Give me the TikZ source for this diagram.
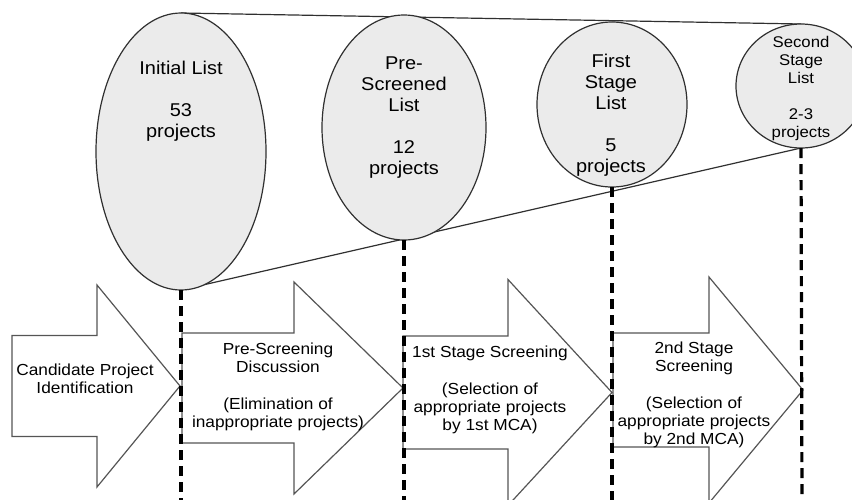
\documentclass[tikz,border=0pt]{standalone}
\usepackage{fontspec}
\setmainfont[FakeStretch=1.08]{Liberation Sans}
\usetikzlibrary{shapes.geometric,backgrounds}
\definecolor{listfill}{HTML}{EBEBEB}
\definecolor{listline}{HTML}{303030}
\definecolor{arrowline}{HTML}{555555}
\tikzset{
  listell/.style={ellipse, draw=listline, fill=listfill, line width=1.2pt, inner sep=0pt, outer sep=0pt},
  listtext/.style={align=center, inner sep=0pt, font=\fontsize{18.5}{21}\selectfont},
  smalltext/.style={align=center, inner sep=0pt, font=\fontsize{15.5}{18}\selectfont},
  steptext/.style={align=center, inner sep=0pt, font=\fontsize{16}{18.2}\selectfont},
  stagearrow/.style={draw=arrowline, fill=white, line width=1.2pt, line join=miter},
  funnel/.style={draw=listline, line width=1.2pt},
  guide/.style={draw=black, line width=3.2pt, dash pattern=on 10pt off 6pt}
}
% body left x, head base x, tip x, centre y, body half height, head half height
\newcommand\stagearr[6]{%
  \draw[stagearrow] (#1,#4-#5) -- (#2,#4-#5) -- (#2,#4-#6) -- (#3,#4)
    -- (#2,#4+#6) -- (#2,#4+#5) -- (#1,#4+#5) -- cycle;}
\begin{document}
\begin{tikzpicture}[x=1pt, y=-1pt]
\useasboundingbox (0,0) rectangle (852,499);
\clip (0,0) rectangle (852,499);

% process arrows
\stagearr{12}{97}{180}{386}{50.5}{101}
\stagearr{182}{294}{403}{388}{55}{106}
\stagearr{403}{508}{612}{392.5}{56.5}{113}
\stagearr{613}{709}{803}{390}{57}{113}

\node[steptext] (a1) at (85,379) {Candidate Project\\Identification};
\node[steptext] (a2) at (278,387) {Pre-Screening\\Discussion\\[18.2pt](Elimination of\\inappropriate projects)};
\node[steptext] (a3) at (490,390) {1st Stage Screening\\[18.2pt](Selection of\\appropriate projects\\by 1st MCA)};
\node[steptext] (a4) at (694,395) {2nd Stage\\Screening\\[18.2pt](Selection of\\appropriate projects\\by 2nd MCA)};

% list ellipses
\node[listell, minimum width=170pt, minimum height=277pt] (e1) at (181,151.5) {};
\node[listell, minimum width=164pt, minimum height=225pt] (e2) at (404,127.5) {};
\node[listell, minimum width=150pt, minimum height=165pt] (e3) at (612,104.5) {};
\node[listell, minimum width=130pt, minimum height=124pt] (e4) at (801,86) {};

% funnel outline behind the ellipses
\begin{pgfonlayer}{background}
\draw[funnel] (e1.north) -- (e4.north);
\draw[funnel] (e1.south) -- (e4.south);
\end{pgfonlayer}

\node[listtext] (t1) at (181,101) {Initial List\\[21pt]53\\projects};
\node[listtext] (t2) at (404,118) {Pre-\\Screened\\List\\[21pt]12\\projects};
\node[listtext] (t3) at (611,115.5) {First\\Stage\\List\\[21pt]5\\projects};
\node[smalltext] (t4) at (801,88.5) {Second\\Stage\\List\\[18pt]2-3\\projects};

% stage boundaries
\coordinate (b1) at (181,505);
\coordinate (b2) at (404,505);
\coordinate (b3) at (612,505);
\coordinate (b4) at (802,505);
\draw[guide] (e1.south) -- (b1);
\draw[guide] (e2.south) -- (b2);
\draw[guide] (e3.south) -- (b3);
\draw[guide] (e4.south) -- (b4);
\end{tikzpicture}
\end{document}
